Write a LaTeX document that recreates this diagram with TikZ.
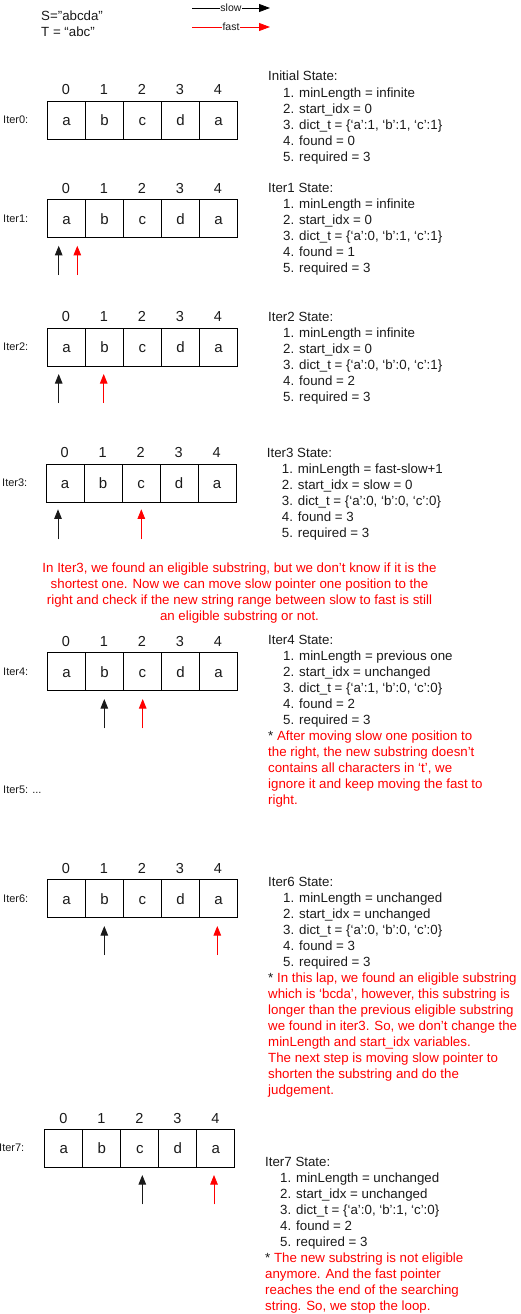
\documentclass[tikz,border=0pt]{standalone}
\usepackage{fontspec}
\setmainfont{Liberation Sans}
\usetikzlibrary{arrows.meta,calc}
\definecolor{txt}{HTML}{1A1A1A}
\definecolor{rd}{HTML}{FF0000}
\newcommand\strrow[3]{%
  \foreach \mych [count=\i from 0] in {a,b,c,d,a} {
    \node[cellbox, anchor=north west] (#1c\i) at ({#2+38*\i},#3) {\mych};
    \node[idx] (#1i\i) at ({#2+19+38*\i},{#3-11}) {\i};
  }}
\begin{document}
\begin{tikzpicture}[x=1pt,y=-1pt,
  cellbox/.style={draw=black, line width=0.9pt, minimum width=38pt, minimum height=38pt, inner sep=0pt, text=txt, text height=11pt, text depth=0pt, font=\fontsize{15}{18}\selectfont},
  idx/.style={font=\fontsize{14.5}{16}\selectfont, inner sep=0pt, text=txt, text height=10.4pt, text depth=0pt},
  iterlab/.style={font=\fontsize{11}{12}\selectfont, anchor=west, inner sep=0pt, text=txt},
  st/.style={font=\fontsize{13.3}{16}\selectfont, anchor=base west, inner sep=0pt, text=txt},
  note/.style={st, text=rd},
  para/.style={font=\fontsize{13.3}{16}\selectfont, anchor=base, inner sep=0pt, text=rd},
  slowarr/.style={draw=txt, line width=0.8pt, -{Triangle[length=9.5pt,width=7.5pt]}},
  fastarr/.style={draw=rd, line width=0.8pt, -{Triangle[length=9.5pt,width=7.5pt]}},
  leglab/.style={fill=white, inner sep=0.5pt, font=\fontsize{10.5}{12}\selectfont, text=txt},
]
\useasboundingbox (0,0) rectangle (520,1314);

% legend
\node[st] (S) at (41,20.7) {S="abcda"};
\node[st] (T) at (41,36.7) {T = “abc”};
\coordinate (ls0) at (192,8); \coordinate (ls1) at (270,8);
\coordinate (lf0) at (192,27); \coordinate (lf1) at (270,27);
\draw[draw=black, line width=0.8pt, -{Triangle[length=11pt,width=8pt]}] (ls0) -- node[leglab] (lslow) {slow} (ls1);
\draw[draw=rd, line width=0.8pt, -{Triangle[length=11pt,width=8pt]}] (lf0) -- node[leglab] (lfast) {fast} (lf1);

% Iter0
\strrow{a}{47}{100.7}
\node[iterlab] (L0) at (3,119.7) {Iter0:};
\node[st] (h0) at (268,81) {Initial State:};
\node[st] (a1) at (283,97) {1. minLength = infinite};
\node[st] (a2) at (283,113) {2. start\_idx = 0};
\node[st] (a3) at (283,129) {3. dict\_t = \{‘a’:1, ‘b’:1, ‘c’:1\}};
\node[st] (a4) at (283,145) {4. found = 0};
\node[st] (a5) at (283,161) {5. required = 3};

% Iter1
\strrow{b}{47}{199.3}
\node[iterlab] (L1) at (3,218.3) {Iter1:};
\node[st] (h1) at (268,192) {Iter1 State:};
\node[st] (b1) at (283,208) {1. minLength = infinite};
\node[st] (b2) at (283,224) {2. start\_idx = 0};
\node[st] (b3) at (283,240) {3. dict\_t = \{‘a’:0, ‘b’:1, ‘c’:1\}};
\node[st] (b4) at (283,256) {4. found = 1};
\node[st] (b5) at (283,272) {5. required = 3};
\coordinate (bst) at (58.7,275); \coordinate (bsh) at (58.7,245.8);
\coordinate (bft) at (77.3,275); \coordinate (bfh) at (77.3,245.8);
\draw[slowarr] (bst) -- (bsh);
\draw[fastarr] (bft) -- (bfh);

% Iter2
\strrow{c}{47}{327.7}
\node[iterlab] (L2) at (3,346.7) {Iter2:};
\node[st] (h2) at (268,321) {Iter2 State:};
\node[st] (c1) at (283,337) {1. minLength = infinite};
\node[st] (c2) at (283,353) {2. start\_idx = 0};
\node[st] (c3) at (283,369) {3. dict\_t = \{‘a’:0, ‘b’:0, ‘c’:1\}};
\node[st] (c4) at (283,385) {4. found = 2};
\node[st] (c5) at (283,401) {5. required = 3};
\coordinate (cst) at (58.7,403); \coordinate (csh) at (58.7,374);
\coordinate (cft) at (103.7,403); \coordinate (cfh) at (103.7,374);
\draw[slowarr] (cst) -- (csh);
\draw[fastarr] (cft) -- (cfh);

% Iter3
\strrow{d}{45.7}{463.7}
\node[iterlab] (L3) at (2,482.7) {Iter3:};
\node[st] (h3) at (266.7,457) {Iter3 State:};
\node[st] (d1) at (281.7,473) {1. minLength = fast-slow+1};
\node[st] (d2) at (281.7,489) {2. start\_idx = slow = 0};
\node[st] (d3) at (281.7,505) {3. dict\_t = \{‘a’:0, ‘b’:0, ‘c’:0\}};
\node[st] (d4) at (281.7,521) {4. found = 3};
\node[st] (d5) at (281.7,537) {5. required = 3};
\coordinate (dst) at (58,539.3); \coordinate (dsh) at (58,509.3);
\coordinate (dft) at (141.3,539.3); \coordinate (dfh) at (141.3,509.3);
\draw[slowarr] (dst) -- (dsh);
\draw[fastarr] (dft) -- (dfh);

% explanation
\node[para] (p1) at (239.5,572) {In Iter3, we found an eligible substring, but we don’t know if it is the};
\node[para] (p2) at (239.5,588) {shortest one. Now we can move slow pointer one position to the};
\node[para] (p3) at (239.5,604) {right and check if the new string range between slow to fast is still};
\node[para] (p4) at (239.5,620) {an eligible substring or not.};

% Iter4
\strrow{e}{47}{652.3}
\node[iterlab] (L4) at (3,671.3) {Iter4:};
\node[st] (h4) at (268,644) {Iter4 State:};
\node[st] (e1) at (283,660) {1. minLength = previous one};
\node[st] (e2) at (283,676) {2. start\_idx = unchanged};
\node[st] (e3) at (283,692) {3. dict\_t = \{‘a’:1, ‘b’:0, ‘c’:0\}};
\node[st] (e4) at (283,708) {4. found = 2};
\node[st] (e5) at (283,724) {5. required = 3};
\node[note] (en1) at (268,740) {{\color{txt}*} After moving slow one position to};
\node[note] (en2) at (268,756) {the right, the new substring doesn’t};
\node[note] (en3) at (268,772) {contains all characters in ‘t’, we};
\node[note] (en4) at (268,788) {ignore it and keep moving the fast to};
\node[note] (en5) at (268,804) {right.};
\coordinate (est) at (104.3,728.3); \coordinate (esh) at (104.3,699);
\coordinate (eft) at (142.7,728.3); \coordinate (efh) at (142.7,699);
\draw[slowarr] (est) -- (esh);
\draw[fastarr] (eft) -- (efh);

% Iter5
\node[iterlab] (L5) at (3,789.3) {Iter5: ...};

% Iter6
\strrow{f}{47}{879.3}
\node[iterlab] (L6) at (3,898.3) {Iter6:};
\node[st] (h6) at (268,886.4) {Iter6 State:};
\node[st] (f1) at (283,902) {1. minLength = unchanged};
\node[st] (f2) at (283,918) {2. start\_idx = unchanged};
\node[st] (f3) at (283,934) {3. dict\_t = \{‘a’:0, ‘b’:0, ‘c’:0\}};
\node[st] (f4) at (283,950) {4. found = 3};
\node[st] (f5) at (283,966) {5. required = 3};
\node[note] (fn1) at (268,982) {{\color{txt}*} In this lap, we found an eligible substring};
\node[note] (fn2) at (268,998) {which is ‘bcda’, however, this substring is};
\node[note] (fn3) at (268,1014) {longer than the previous eligible substring};
\node[note] (fn4) at (268,1030) {we found in iter3. So, we don’t change the};
\node[note] (fn5) at (268,1046) {minLength and start\_idx variables.};
\node[note] (fn6) at (268,1062) {The next step is moving slow pointer to};
\node[note] (fn7) at (268,1078) {shorten the substring and do the};
\node[note] (fn8) at (268,1094) {judgement.};
\coordinate (fst) at (104.3,955); \coordinate (fsh) at (104.3,926);
\coordinate (fft) at (217.3,955); \coordinate (ffh) at (217.3,926);
\draw[slowarr] (fst) -- (fsh);
\draw[fastarr] (fft) -- (ffh);

% Iter7
\strrow{g}{44.3}{1129}
\node[iterlab] (L7) at (-1,1148) {Iter7:};
\node[st] (h7) at (265,1166.4) {Iter7 State:};
\node[st] (g1) at (280,1182) {1. minLength = unchanged};
\node[st] (g2) at (280,1198) {2. start\_idx = unchanged};
\node[st] (g3) at (280,1214) {3. dict\_t = \{‘a’:0, ‘b’:1, ‘c’:0\}};
\node[st] (g4) at (280,1230) {4. found = 2};
\node[st] (g5) at (280,1246) {5. required = 3};
\node[note] (gn1) at (265,1262) {{\color{txt}*} The new substring is not eligible};
\node[note] (gn2) at (265,1278) {anymore. And the fast pointer};
\node[note] (gn3) at (265,1294) {reaches the end of the searching};
\node[note] (gn4) at (265,1310) {string. So, we stop the loop.};
\coordinate (gst) at (142.3,1204.3); \coordinate (gsh) at (142.3,1175);
\coordinate (gft) at (214,1204.3); \coordinate (gfh) at (214,1175);
\draw[slowarr] (gst) -- (gsh);
\draw[fastarr] (gft) -- (gfh);
\end{tikzpicture}
\end{document}
